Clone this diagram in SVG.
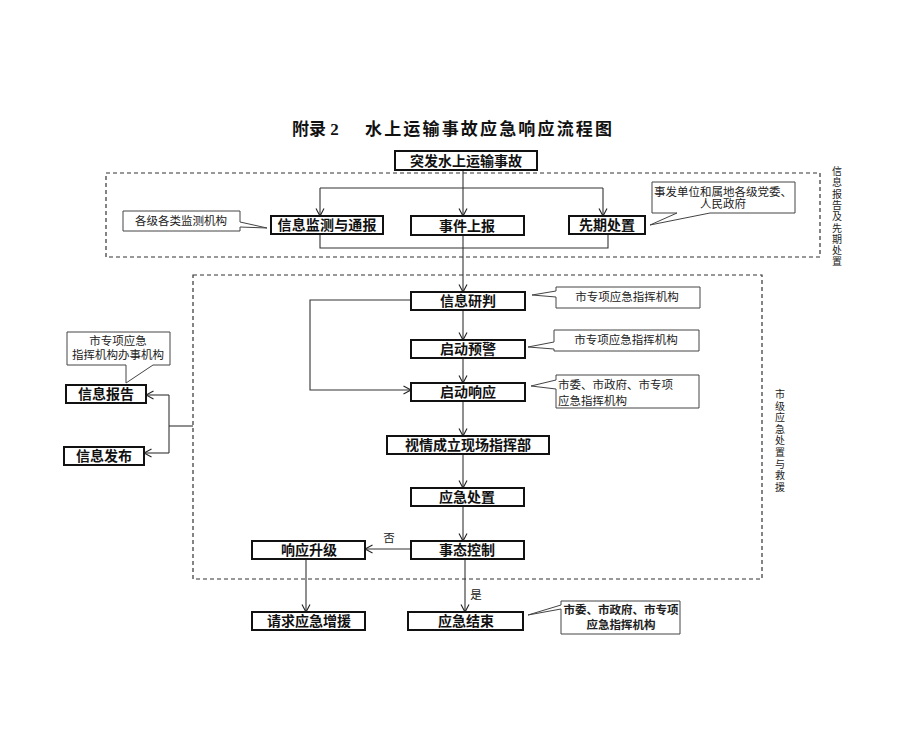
<svg xmlns="http://www.w3.org/2000/svg" width="907" height="750" viewBox="0 0 907 750">
<style>
.bg{fill:#fff}
.box{fill:#fff;stroke:#111;stroke-width:2}
.call{fill:#fff;stroke:#444;stroke-width:1}
.dash{fill:none;stroke:#333;stroke-width:1.2;stroke-dasharray:4 3}
.ln{fill:none;stroke:#333;stroke-width:1.1}
.t{font-family:"Liberation Serif","Noto Sans CJK SC",serif;font-size:14px;font-weight:bold;fill:#111;text-anchor:middle}
.c{font-family:"Liberation Serif","Noto Sans CJK SC",serif;font-size:11.5px;fill:#222}
.v{font-family:"Liberation Serif","Noto Sans CJK SC",serif;font-size:10px;fill:#222;text-anchor:middle}
.title{font-family:"Liberation Serif","Noto Sans CJK SC",serif;font-size:17px;font-weight:bold;fill:#111}
</style>
<defs>
<marker id="arr" markerUnits="userSpaceOnUse" markerWidth="10" markerHeight="10" refX="8.5" refY="5" orient="auto">
<path d="M1,1 L8.5,5 L1,9" fill="none" stroke="#222" stroke-width="1.1"/>
</marker>
</defs>
<rect class="bg" x="0" y="0" width="907" height="750"/>

<text class="title" x="292" y="135">附录 2</text>
<text class="title" x="365" y="135" textLength="247" lengthAdjust="spacing">水上运输事故应急响应流程图</text>

<g id="regions">
<rect class="dash" x="106" y="173" width="714" height="84"/>
<rect class="dash" x="193" y="275" width="569" height="304"/>
<text class="v"><tspan x="837" y="175">信</tspan><tspan x="837" y="186.3">息</tspan><tspan x="837" y="197.6">报</tspan><tspan x="837" y="208.9">告</tspan><tspan x="837" y="220.2">及</tspan><tspan x="837" y="231.5">先</tspan><tspan x="837" y="242.8">期</tspan><tspan x="837" y="254.1">处</tspan><tspan x="837" y="265.4">置</tspan></text>
<text class="v"><tspan x="780" y="398">市</tspan><tspan x="780" y="409.6">级</tspan><tspan x="780" y="421.2">应</tspan><tspan x="780" y="432.8">急</tspan><tspan x="780" y="444.4">处</tspan><tspan x="780" y="456">置</tspan><tspan x="780" y="467.6">与</tspan><tspan x="780" y="479.2">救</tspan><tspan x="780" y="490.8">援</tspan></text>
</g>

<g id="connectors">
<path class="ln" d="M463,170 V216" marker-end="url(#arr)"/>
<path class="ln" d="M320,188 H603"/>
<path class="ln" d="M320,188 V216" marker-end="url(#arr)"/>
<path class="ln" d="M603,188 V216" marker-end="url(#arr)"/>
<path class="ln" d="M320,234 V248 H608 V234"/>
<path class="ln" d="M463,235 V292" marker-end="url(#arr)"/>
<path class="ln" d="M463,310 V340" marker-end="url(#arr)"/>
<path class="ln" d="M463,358 V383" marker-end="url(#arr)"/>
<path class="ln" d="M411,300 H310 V390 H411" marker-end="url(#arr)"/>
<path class="ln" d="M463,401 V436" marker-end="url(#arr)"/>
<path class="ln" d="M463,454 V488" marker-end="url(#arr)"/>
<path class="ln" d="M463,506 V541" marker-end="url(#arr)"/>
<path class="ln" d="M411,549 H365" marker-end="url(#arr)"/>
<path class="ln" d="M306,559 V612" marker-end="url(#arr)"/>
<path class="ln" d="M465,559 V612" marker-end="url(#arr)"/>
<path class="ln" d="M193,426 H169"/>
<path class="ln" d="M169,395 V453"/>
<path class="ln" d="M169,395 H146" marker-end="url(#arr)"/>
<path class="ln" d="M169,453 H144" marker-end="url(#arr)"/>
<text class="c" x="389" y="542" text-anchor="middle" font-size="12">否</text>
<text class="c" x="476" y="599" text-anchor="middle" font-size="12">是</text>
</g>

<g id="n-start"><rect class="box" x="395" y="151" width="142" height="19"/><text class="t" x="466" y="166">突发水上运输事故</text></g>
<g id="n-monitor"><rect class="box" x="271" y="216" width="112" height="18"/><text class="t" x="327" y="230" textLength="99" lengthAdjust="spacing">信息监测与通报</text></g>
<g id="n-report"><rect class="box" x="411" y="216" width="113" height="19"/><text class="t" x="467" y="231">事件上报</text></g>
<g id="n-initial"><rect class="box" x="569" y="216" width="76" height="18"/><text class="t" x="607" y="230">先期处置</text></g>
<g id="n-judge"><rect class="box" x="411" y="292" width="114" height="18"/><text class="t" x="468" y="306">信息研判</text></g>
<g id="n-warn"><rect class="box" x="411" y="340" width="114" height="18"/><text class="t" x="468" y="354">启动预警</text></g>
<g id="n-respond"><rect class="box" x="411" y="383" width="114" height="18"/><text class="t" x="468" y="397">启动响应</text></g>
<g id="n-command"><rect class="box" x="387" y="436" width="162" height="18"/><text class="t" x="468" y="450">视情成立现场指挥部</text></g>
<g id="n-handle"><rect class="box" x="411" y="488" width="113" height="18"/><text class="t" x="467" y="502">应急处置</text></g>
<g id="n-control"><rect class="box" x="411" y="541" width="113" height="18"/><text class="t" x="467" y="555">事态控制</text></g>
<g id="n-upgrade"><rect class="box" x="252" y="541" width="113" height="18"/><text class="t" x="309" y="555">响应升级</text></g>
<g id="n-request"><rect class="box" x="252" y="612" width="113" height="18"/><text class="t" x="309" y="626">请求应急增援</text></g>
<g id="n-end"><rect class="box" x="408" y="612" width="115" height="18"/><text class="t" x="466" y="626">应急结束</text></g>
<g id="n-inforeport"><rect class="box" x="66" y="385" width="80" height="18"/><text class="t" x="106" y="399">信息报告</text></g>
<g id="n-publish"><rect class="box" x="64" y="447" width="80" height="18"/><text class="t" x="104" y="461">信息发布</text></g>

<g id="c-monitor"><path class="call" d="M123,211 H240 V222 L267,228 L240,227 V231 H123 Z"/><text class="c" x="181" y="225" text-anchor="middle">各级各类监测机构</text></g>
<g id="c-initial"><path class="call" d="M652,182 H795 V213 H710 L650,225 L677,213 H652 Z"/><text class="c" x="723" y="196" text-anchor="middle">事发单位和属地各级党委、</text><text class="c" x="723" y="208" text-anchor="middle">人民政府</text></g>
<g id="c-judge"><path class="call" d="M556,287 H700 V308 H556 V297 L532,295 L556,291 Z"/><text class="c" x="627" y="301" text-anchor="middle">市专项应急指挥机构</text></g>
<g id="c-warn"><path class="call" d="M554,330 H699 V351 H554 V349 L528,347 L554,342 Z"/><text class="c" x="626" y="344" text-anchor="middle">市专项应急指挥机构</text></g>
<g id="c-respond"><path class="call" d="M556,375 H699 V408 H556 V389 L531,386 L556,380 Z"/><text class="c" x="558" y="389">市委、市政府、市专项</text><text class="c" x="558" y="405">应急指挥机构</text></g>
<g id="c-end"><path class="call" d="M561,601 H680 V634 H561 V609 L528,615 L561,605 Z"/><text class="c" x="621" y="614" text-anchor="middle" font-weight="bold">市委、市政府、市专项</text><text class="c" x="621" y="629" text-anchor="middle" font-weight="bold">应急指挥机构</text></g>
<g id="c-inforeport"><path class="call" d="M67,332 H170 V365 H153 L126,383 L126,365 H67 Z"/><text class="c" x="118" y="345" text-anchor="middle">市专项应急</text><text class="c" x="118" y="359" text-anchor="middle">指挥机构办事机构</text></g>
</svg>
